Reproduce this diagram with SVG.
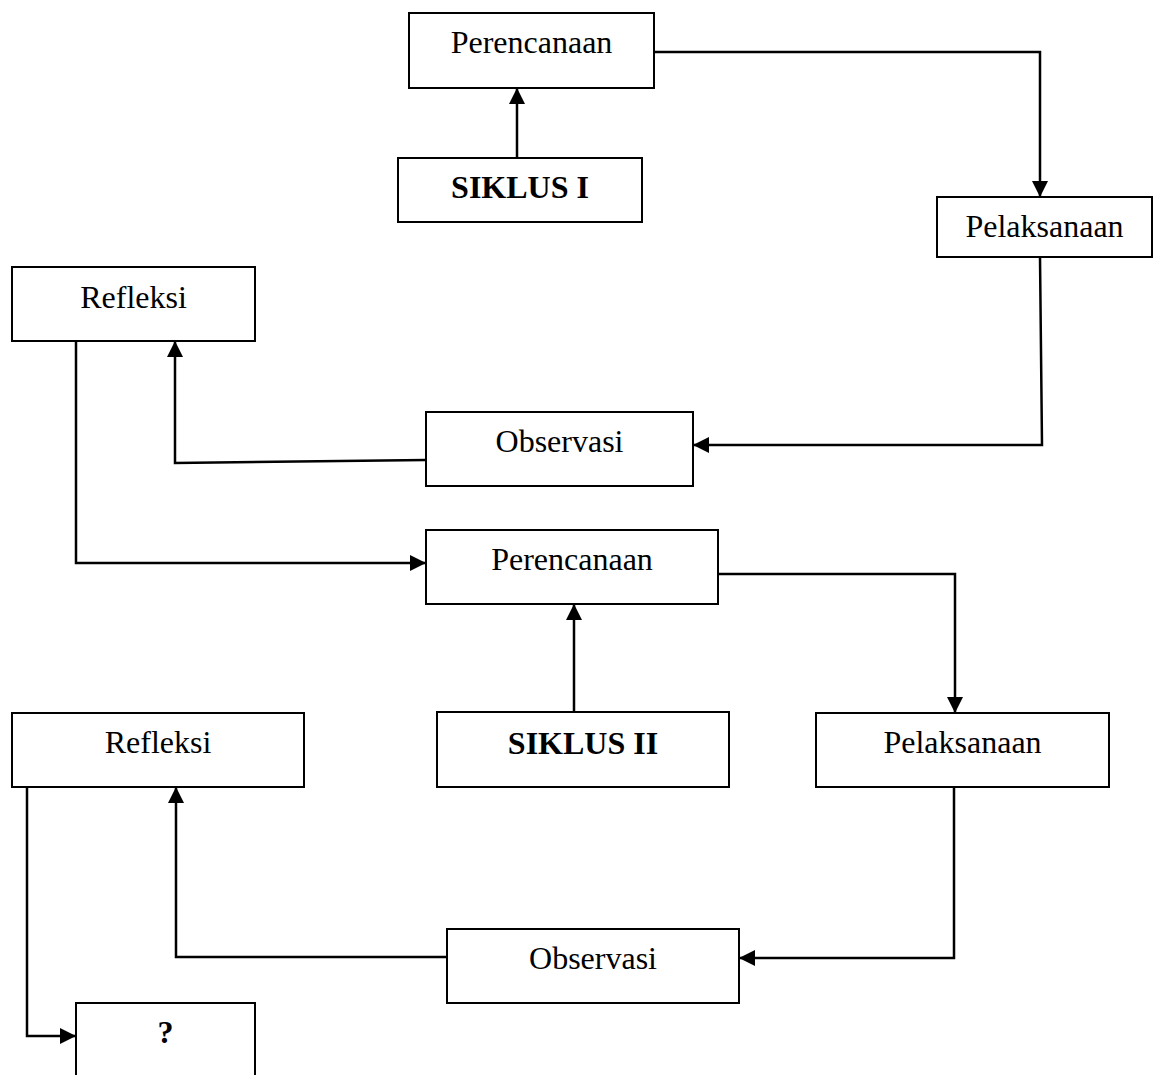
<svg xmlns="http://www.w3.org/2000/svg" width="1161" height="1075" viewBox="0 0 1161 1075">
<style>
.box{fill:#fff;stroke:#000;stroke-width:2}
.lbl{font-family:"Liberation Serif","Times New Roman",serif;font-size:32px;fill:#000;text-anchor:middle}
.b{font-weight:bold}
.con{fill:none;stroke:#000;stroke-width:2.5;stroke-linejoin:miter}
</style>
<defs>
<marker id="arr" viewBox="0 0 16 16" refX="16" refY="8" markerWidth="16" markerHeight="16" markerUnits="userSpaceOnUse" orient="auto">
<path d="M0,0 L16,8 L0,16 z" fill="#000"/>
</marker>
</defs>
<rect x="0" y="0" width="1161" height="1075" fill="#fff"/>
<g id="connectors">
<path class="con" d="M654,52 L1040,52 L1040,197" marker-end="url(#arr)"/>
<path class="con" d="M517,158 L517,88" marker-end="url(#arr)"/>
<path class="con" d="M1040,257 L1042,445 L693,445" marker-end="url(#arr)"/>
<path class="con" d="M426,460 L175,463 L175,341" marker-end="url(#arr)"/>
<path class="con" d="M76,341 L76,563 L426,563" marker-end="url(#arr)"/>
<path class="con" d="M718,574 L955,574 L955,713" marker-end="url(#arr)"/>
<path class="con" d="M574,712 L574,604" marker-end="url(#arr)"/>
<path class="con" d="M954,787 L954,958 L739,958" marker-end="url(#arr)"/>
<path class="con" d="M447,957 L176,957 L176,787" marker-end="url(#arr)"/>
<path class="con" d="M27,787 L27,1036 L76,1036" marker-end="url(#arr)"/>
</g>
<g id="perencanaan1"><rect class="box" x="409" y="13" width="245" height="75"/><text class="lbl" x="531.5" y="53">Perencanaan</text></g>
<g id="siklus1"><rect class="box" x="398" y="158" width="244" height="64"/><text class="lbl b" x="520" y="198">SIKLUS I</text></g>
<g id="pelaksanaan1"><rect class="box" x="937" y="197" width="215" height="60"/><text class="lbl" x="1044.5" y="237">Pelaksanaan</text></g>
<g id="refleksi1"><rect class="box" x="12" y="267" width="243" height="74"/><text class="lbl" x="133.5" y="308">Refleksi</text></g>
<g id="observasi1"><rect class="box" x="426" y="412" width="267" height="74"/><text class="lbl" x="559.5" y="452">Observasi</text></g>
<g id="perencanaan2"><rect class="box" x="426" y="530" width="292" height="74"/><text class="lbl" x="572" y="570">Perencanaan</text></g>
<g id="siklus2"><rect class="box" x="437" y="712" width="292" height="75"/><text class="lbl b" x="583" y="754">SIKLUS II</text></g>
<g id="pelaksanaan2"><rect class="box" x="816" y="713" width="293" height="74"/><text class="lbl" x="962.5" y="753">Pelaksanaan</text></g>
<g id="refleksi2"><rect class="box" x="12" y="713" width="292" height="74"/><text class="lbl" x="158" y="753">Refleksi</text></g>
<g id="observasi2"><rect class="box" x="447" y="929" width="292" height="74"/><text class="lbl" x="593" y="969">Observasi</text></g>
<g id="tanya"><rect class="box" x="76" y="1003" width="179" height="100"/><text class="lbl b" x="165.5" y="1043">?</text></g>
</svg>
